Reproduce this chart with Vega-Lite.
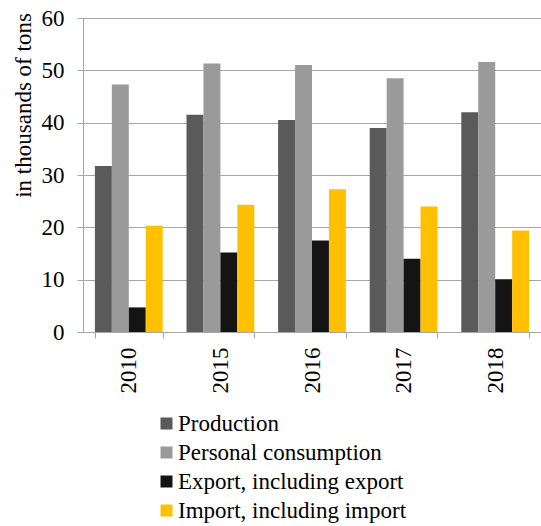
{
  "$schema": "https://vega.github.io/schema/vega-lite/v6.json",
  "autosize": {"type": "none"},
  "padding": {"left": 83, "top": 18, "right": 0, "bottom": 194},
  "width": 458,
  "height": 314,
  "background": "white",
  "config": {
    "font": "Liberation Serif",
    "view": {"stroke": null},
    "text": {"font": "Liberation Serif"},
    "axis": {
      "labelFont": "Liberation Serif",
      "titleFont": "Liberation Serif",
      "labelColor": "#000000",
      "titleColor": "#000000",
      "domainColor": "#a6a6a6",
      "tickColor": "#a6a6a6",
      "gridColor": "#a6a6a6",
      "labelFontSize": 23,
      "titleFontSize": 23,
      "titleFontWeight": "normal"
    }
  },
  "data": {
    "values": [
      {"year": "2010", "series": "Production", "value": 31.7},
      {"year": "2010", "series": "Personal consumption", "value": 47.3},
      {"year": "2010", "series": "Export, including export", "value": 4.7},
      {"year": "2010", "series": "Import, including import", "value": 20.3},
      {"year": "2015", "series": "Production", "value": 41.5},
      {"year": "2015", "series": "Personal consumption", "value": 51.3},
      {"year": "2015", "series": "Export, including export", "value": 15.2},
      {"year": "2015", "series": "Import, including import", "value": 24.3},
      {"year": "2016", "series": "Production", "value": 40.5},
      {"year": "2016", "series": "Personal consumption", "value": 51.0},
      {"year": "2016", "series": "Export, including export", "value": 17.5},
      {"year": "2016", "series": "Import, including import", "value": 27.3},
      {"year": "2017", "series": "Production", "value": 39.0},
      {"year": "2017", "series": "Personal consumption", "value": 48.5},
      {"year": "2017", "series": "Export, including export", "value": 14.0},
      {"year": "2017", "series": "Import, including import", "value": 24.0},
      {"year": "2018", "series": "Production", "value": 42.0},
      {"year": "2018", "series": "Personal consumption", "value": 51.6},
      {"year": "2018", "series": "Export, including export", "value": 10.1},
      {"year": "2018", "series": "Import, including import", "value": 19.4}
    ]
  },
  "mark": {"type": "bar"},
  "encoding": {
    "x": {
      "field": "year",
      "type": "nominal",
      "scale": {"paddingInner": 0.26, "paddingOuter": 0.13},
      "axis": {
        "title": null,
        "labelAngle": -90,
        "labelPadding": 9,
        "tickBand": "extent",
        "tickSize": 6,
        "domainColor": "#a6a6a6"
      }
    },
    "xOffset": {
      "field": "series",
      "type": "nominal",
      "sort": ["Production", "Personal consumption", "Export, including export", "Import, including import"]
    },
    "y": {
      "field": "value",
      "type": "quantitative",
      "scale": {"domain": [0, 60], "nice": false},
      "axis": {
        "title": "in thousands of tons",
        "values": [0, 10, 20, 30, 40, 50, 60],
        "tickSize": 6,
        "labelPadding": 13,
        "grid": true,
        "titleX": -60,
        "titleY": 87,
        "titleAngle": -90,
        "titleAlign": "center",
        "titleBaseline": "middle"
      }
    },
    "color": {
      "field": "series",
      "type": "nominal",
      "scale": {
        "domain": ["Production", "Personal consumption", "Export, including export", "Import, including import"],
        "range": ["#5a5a5a", "#9a9a9a", "#141414", "#ffc000"]
      },
      "legend": {
        "title": null,
        "orient": "none",
        "legendX": 72,
        "legendY": 394,
        "direction": "vertical",
        "symbolType": "square",
        "symbolSize": 144,
        "symbolStrokeWidth": 0,
        "labelFont": "Liberation Serif",
        "labelFontSize": 23,
        "labelColor": "#000000",
        "labelLimit": 0,
        "labelOffset": 0,
        "rowPadding": 5
      }
    }
  }
}
